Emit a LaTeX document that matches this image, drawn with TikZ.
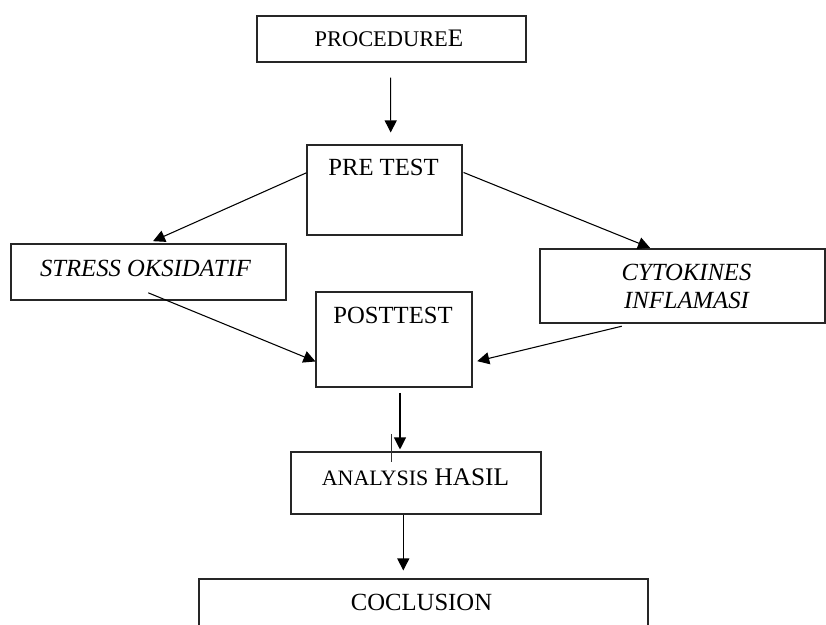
\documentclass[tikz,border=0pt]{standalone}
\usepackage{fontspec}
\setmainfont{Liberation Serif}
\usetikzlibrary{arrows.meta,calc}
\begin{document}
\begin{tikzpicture}[x=0.75pt,y=-0.75pt,
  box/.style={draw=black!85, line width=0.8pt, inner sep=0pt},
  lbl/.style={inner sep=0pt, font=\fontsize{18.5}{21.2}\selectfont},
  arr/.style={draw=black, line width=0.8pt, -{Triangle[length=9pt,width=9pt]}},
  plain/.style={draw=black!80, line width=0.6pt}]
\useasboundingbox (0,0) rectangle (826,625);
\clip (0,0) rectangle (826,625);
\fill[white] (0,0) rectangle (826,625);

% boxes
\node[box, minimum width=269*0.75pt, minimum height=46*0.75pt] (proc) at (391.5,39) {};
\node[box, minimum width=155*0.75pt, minimum height=90*0.75pt] (pre) at (384.5,190) {};
\node[box, minimum width=275*0.75pt, minimum height=56*0.75pt] (stress) at (148.5,272) {};
\node[box, minimum width=156*0.75pt, minimum height=95*0.75pt] (post) at (394,339.5) {};
\node[box, minimum width=285*0.75pt, minimum height=74*0.75pt] (cyto) at (682.5,286) {};
\node[box, minimum width=250*0.75pt, minimum height=62*0.75pt] (anal) at (416,483) {};
\node[box, minimum width=449*0.75pt, minimum height=80*0.75pt] (concl) at (423.5,619) {};

% texts
\node[lbl, anchor=base] (proct) at (389,46.7) {{\fontsize{16.8}{20}\selectfont PROCEDURE}{\fontsize{18.9}{20}\selectfont E}};
\node[lbl, anchor=base] (pret) at (383.5,175.7) {PRE TEST};
\node[lbl, anchor=base] (postt) at (393,323.3) {POSTTEST};
\node[lbl, anchor=base] (stresst) at (145.5,276) {\itshape STRESS OKSIDATIF};
\node[lbl, anchor=base] (cytot1) at (686.5,280) {\itshape CYTOKINES};
\node[lbl, anchor=base] (cytot2) at (686.5,308.3) {\itshape INFLAMASI};
\node[lbl, anchor=base] (analt) at (415.5,485) {{\fontsize{16.5}{20}\selectfont ANALYSIS} {\fontsize{19}{20}\selectfont HASIL}};
\node[lbl, anchor=base] (conclt) at (421.5,610.7) {COCLUSION};

% connectors
\draw[arr] ($(proc.south)+(-0.8,15)$) -- ($(pre.north)+(6.2,-12)$);
\draw[arr] ($(pre.north west)+(0,28.3)$) -- ($(stress.north)+(4.5,-2.3)$);
\draw[arr] ($(pre.north east)+(1,28)$) -- ($(cyto.north)+(-32.5,-0.7)$);
\draw[arr] ($(stress.south)+(-0.2,-7.7)$) -- ($(post.north west)+(0,70)$);
\draw[arr] ($(cyto.south)+(-60.8,2.7)$) -- ($(post.north east)+(4.7,69.7)$);
\draw[arr] ($(post.south)+(6,5.3)$) -- ($(anal.north)+(-16,-2)$);
\draw[plain] ($(anal.north)+(-24.3,-17)$) coordinate (tickA) -- ($(anal.north)+(-24.3,10.7)$) coordinate (tickB);
\draw[arr] ($(anal.south)+(-12.7,0)$) -- ($(concl.north)+(-20.2,-8)$);
\end{tikzpicture}
\end{document}
